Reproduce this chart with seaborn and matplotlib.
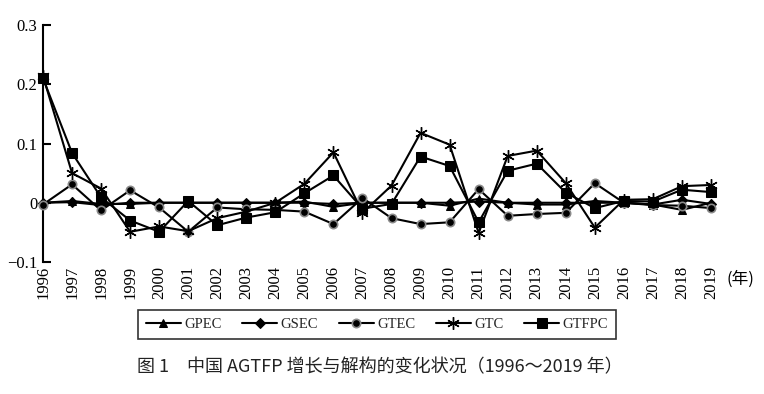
import matplotlib
matplotlib.use("Agg")
import matplotlib.pyplot as plt
import seaborn as sns
import pandas as pd

years = list(range(1996, 2020))
gpec = [0.000, 0.003, -0.002, -0.002, 0.000, 0.000, 0.000, 0.000, 0.000, 0.002, -0.007, 0.000,
        0.000, 0.000, -0.005, 0.007, 0.000, -0.003, -0.003, 0.003, 0.000, -0.003, -0.012, 0.000]
gsec = [0.000, 0.001, -0.004, 0.000, 0.000, 0.000, 0.000, 0.000, 0.000, 0.000, -0.002, 0.000,
        0.000, 0.000, 0.000, 0.002, 0.000, 0.000, 0.000, 0.000, 0.000, -0.003, 0.005, -0.002]
gtec = [-0.003, 0.031, -0.013, 0.021, -0.008, -0.049, -0.008, -0.011, -0.012, -0.015, -0.036, 0.008,
        -0.026, -0.036, -0.033, 0.023, -0.022, -0.019, -0.017, 0.033, 0.000, -0.004, -0.005, -0.009]
gtc = [0.214, 0.050, 0.024, -0.049, -0.040, -0.048, -0.026, -0.015, 0.000, 0.032, 0.085, -0.017,
       0.029, 0.118, 0.098, -0.051, 0.079, 0.088, 0.033, -0.042, 0.005, 0.006, 0.028, 0.030]
gtfpc = [0.210, 0.084, 0.009, -0.030, -0.049, 0.003, -0.038, -0.025, -0.016, 0.016, 0.046, -0.010,
         -0.002, 0.078, 0.062, -0.033, 0.054, 0.066, 0.017, -0.009, 0.003, 0.002, 0.022, 0.018]

series_names = ["GPEC", "GSEC", "GTEC", "GTC", "GTFPC"]
series_vals = [gpec, gsec, gtec, gtc, gtfpc]
y_ticks = [-0.1, 0, 0.1, 0.2, 0.3]
y_ticklabels = ["\u22120.1", "0", "0.1", "0.2", "0.3"]

sns.set_theme(style="white")
plt.rcParams["font.family"] = ["Liberation Serif", "Noto Sans CJK SC"]

fig = plt.figure(figsize=(7.64, 3.94), dpi=100)
ax = fig.add_axes([43/764, 1-262/394, (711-43)/764, (262-25)/394])

styles = {
    "GPEC": dict(marker="^", markersize=6, markeredgecolor="black"),
    "GSEC": dict(marker="D", markersize=5, markeredgecolor="black"),
    "GTEC": dict(marker="o", markersize=6, markeredgecolor="#8a8a8a", markeredgewidth=1.2),
    "GTC": dict(marker=(6, 2, 0), markersize=9, markeredgecolor="black", markeredgewidth=1.0),
    "GTFPC": dict(marker="s", markersize=7, markeredgecolor="black"),
}

for name, vals in zip(series_names, series_vals):
    df = pd.DataFrame({"year": years, "value": vals})
    sns.lineplot(data=df, x="year", y="value", ax=ax, color="black", linewidth=1.5,
                 label=name, clip_on=False, zorder=3, **styles[name])

ax.set_xlim(1996, 2019)
ax.set_ylim(-0.1, 0.3)
ax.set_yticks(y_ticks)
ax.set_yticklabels(y_ticklabels)
ax.set_xticks(years)
ax.set_xticklabels([str(y) for y in years], rotation=90)
ax.set_xlabel("")
ax.set_ylabel("")
for s in ["top", "right", "bottom"]:
    ax.spines[s].set_visible(False)
ax.spines["left"].set_color("black")
ax.spines["left"].set_linewidth(1.5)
ax.tick_params(axis="y", direction="in", length=6, width=1.5, colors="black",
               labelsize=12, pad=4, left=True)
ax.tick_params(axis="x", length=0, labelsize=12, colors="black", pad=3)

ax.legend_.remove()
handles, labels = ax.get_legend_handles_labels()
leg = fig.legend(handles, labels, loc="center", bbox_to_anchor=(377/764, 1-324.5/394),
                 ncol=5, frameon=True, fancybox=False, edgecolor="black", fontsize=10.5,
                 handlelength=2.4, columnspacing=1.4, handletextpad=0.25, borderpad=0.55,
                 borderaxespad=0)
leg.get_frame().set_linewidth(1.2)

fig.text(740/764, 1-279/394, "(年)", fontsize=12, family=["Noto Sans CJK SC"],
         ha="center", va="center", color="black")
fig.text(380/764, 1-367/394, "图 1　中国 AGTFP 增长与解构的变化状况（1996～2019 年）",
         fontsize=13, family=["Noto Sans CJK SC", "DejaVu Sans"], ha="center", va="center",
         color="#222222")

fig.savefig("out.png", dpi=100, facecolor="white")
